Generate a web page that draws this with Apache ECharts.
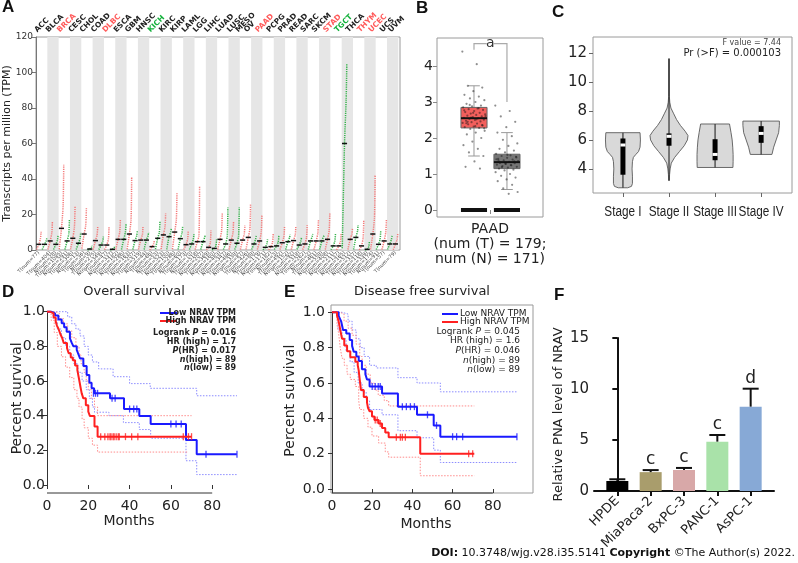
<!DOCTYPE html>
<html><head><meta charset="utf-8">
<script src="https://cdn.jsdelivr.net/npm/echarts@6/dist/echarts.min.js"></script>
<style>html,body{margin:0;padding:0;background:#fff}#c{width:798px;height:563px}</style>
</head><body><div id="c"></div>
<script>
// ================= DATA =================
// Panel A: pan-cancer dot plot (TPM). Per group: [min, median, q90, max]; null = no normal group
const cancerTypes = ['ACC','BLCA','BRCA','CESC','CHOL','COAD','DLBC','ESCA','GBM','HNSC','KICH','KIRC','KIRP','LAML','LGG','LIHC','LUAD','LUSC','MESO','OV','PAAD','PCPG','PRAD','READ','SARC','SKCM','STAD','TGCT','THCA','THYM','UCEC','UCS','UVM'];
const upInTumor = ['BRCA','DLBC','PAAD','STAD','THYM','UCEC'];
const downInTumor = ['KICH','TGCT'];
const tumorQuant = [
 [0.3,3.2,6.5,10.3],[0.3,5.1,9.5,16],[0.5,12.2,25,48],[0.3,6.6,13,24.4],[0.8,9.0,14,23.5],
 [0.2,5.3,8.5,13],[0.2,2.8,6,13],[0.3,6.0,10,17],[0.5,9.0,17,41],[0.3,5.6,8.5,13],
 [0.1,1.9,3.5,5.6],[0.5,8.5,13,20.6],[0.5,10.1,17,32],[0.2,3.0,6,11],[0.3,4.7,8,36],
 [0.1,1.5,4,11],[0.3,6.0,11,21],[0.3,5.6,9.5,16],[0.3,5.6,9,14],[0.3,7.1,12,26],
 [0.3,5.1,10,20],[0.1,1.9,4.5,9],[0.3,4.1,7.5,13],[0.3,5.3,8.5,13],[0.2,3.4,7,14],
 [0.2,5.1,9.5,17],[0.3,6.0,11,21],[0.1,2.3,5,9],[0.3,6.0,9,12],[0.1,2.3,7,17],
 [0.3,9.0,18,42],[0.3,5.1,10,17],[0.1,3.4,6,9]
];
const normalQuant = [
 [0.3,3.2,5,6.6],[0.3,3.2,5.5,8.5],[0.3,5.1,9,16.9],[0.3,3.8,6.5,10],[0.1,0.56,1.5,2.8],
 [0.2,2.8,5,7.5],[0.1,0.4,1.2,2],[0.3,6.0,10,14.6],[0.3,5.3,8,11],[0.3,5.6,8,10],
 [0.5,6.6,10,16],[0.3,7.5,10,12],[0.3,6.4,9.5,13],[0.3,3.4,6,9],[0.3,4.7,7,8.5],
 [0.1,0.9,2.5,6],[0.3,3.4,8,24],[0.3,3.8,8,24],null,[0.3,3.4,6,8],
 [0.1,1.5,3.5,6],[0.3,2.3,4.5,8],[0.3,4.7,7,9],[0.3,2.8,5,7],[0.3,5.1,7.5,9],
 [0.3,5.1,7.5,8],[0.2,2.3,5,9],[1,60,85,105],[0.3,7.1,10.5,14],[0.1,0.4,2,5],
 [0.3,3.2,6,11],[0.3,3.4,6,8],null
];
const tumorNum = [77,404,1085,306,36,275,47,182,163,519,66,523,286,173,518,369,483,486,87,426,179,182,492,92,262,461,408,137,512,118,174,57,79];
const normalNum = [128,28,291,13,9,349,337,286,207,44,53,100,60,70,207,160,347,338,null,88,171,3,152,318,2,558,211,165,337,339,91,78,null];
const aYTicks = [0,20,40,60,80,100,120];

// Panel B: PAAD boxplot  [min whisker, q1, median, q3, max whisker]
const bStats = [[1.5,2.28,2.55,2.85,3.45],[0.57,1.15,1.33,1.55,2.15]];
const bTumorPoints = [4.4,4.05,3.45,3.4,3.3,3.2,3.15,3.1,3.05,3.0,2.95,2.9,2.88,2.85,2.82,2.8,2.78,2.75,2.72,2.7,2.68,2.66,2.64,2.62,2.6,2.58,2.56,2.55,2.53,2.51,2.5,2.48,2.46,2.44,2.42,2.4,2.38,2.35,2.32,2.3,2.28,2.25,2.2,2.15,2.1,2.0,1.9,1.8,1.7,1.6,1.5,1.35,1.2,1.15,2.57,2.61,2.52,2.45,2.36,2.7,2.77,2.83,2.92,2.27,2.33,2.41];
const bNormalPoints = [2.9,2.75,2.6,2.45,2.3,2.15,2.05,1.95,1.85,1.78,1.7,1.65,1.6,1.56,1.52,1.5,1.48,1.45,1.42,1.4,1.38,1.36,1.34,1.32,1.3,1.28,1.26,1.24,1.22,1.2,1.18,1.15,1.12,1.1,1.05,1.0,0.95,0.9,0.85,0.8,0.7,0.6,0.5,0.45,1.31,1.35,1.29,1.41,1.25,1.19,1.46,1.53,1.37];
const bTicks = [0,1,2,3,4];

// Panel C: stage violins
const stageNames = ['Stage I','Stage II','Stage III','Stage IV'];
const stageProfiles = [
 [[2.7,0.25],[2.8,0.45],[3.0,0.5],[3.5,0.5],[4.0,0.48],[4.5,0.5],[4.8,0.55],[5.0,0.68],[5.2,0.82],[5.5,0.9],[6.0,0.92],[6.5,0.9]],
 [[3.2,0.02],[3.6,0.03],[4.0,0.06],[4.4,0.12],[4.8,0.3],[5.2,0.55],[5.6,0.8],[6.0,0.97],[6.3,1.0],[6.6,0.85],[7.0,0.6],[7.4,0.4],[7.8,0.25],[8.2,0.1],[8.6,0.04],[9.0,0.02],[11.6,0.02]],
 [[4.1,0.94],[4.5,0.95],[5.0,0.95],[5.5,0.93],[6.0,0.9],[6.5,0.84],[7.1,0.76]],
 [[5.0,0.57],[5.5,0.66],[6.0,0.79],[6.5,0.92],[7.0,0.96],[7.3,0.96]]
];
const stageMin = [2.7,3.2,4.1,5.0];
const stageQ1 = [3.6,5.6,4.6,5.8];
const stageMedian = [5.65,6.25,5.0,6.45];
const stageQ3 = [6.1,6.45,6.05,6.95];
const stageMax = [6.5,11.6,7.1,7.3];
const cTicks = [4,6,8,10,12];

// Panel D: overall survival (months, survival)
const dLow = [[0,1],[2,0.99],[3.9,0.978],[5.5,0.955],[7.1,0.933],[8.3,0.91],[9.5,0.885],[11.1,0.846],[12,0.82],[12.8,0.80],[14.4,0.779],[15.2,0.755],[16,0.73],[17.6,0.687],[19.2,0.635],[20.5,0.59],[21.6,0.558],[22.8,0.529],[30.5,0.5],[37.3,0.4385],[44.7,0.398],[50.2,0.352],[67.3,0.26],[72.5,0.177],[91.9,0.177]];
const dHigh = [[0,1],[1.5,0.99],[3.2,0.966],[4.2,0.944],[4.8,0.92],[5.6,0.90],[6.5,0.87],[7.3,0.85],[8.1,0.82],[9.7,0.79],[10.5,0.76],[11.5,0.735],[12.5,0.72],[13.6,0.69],[14.7,0.663],[15.6,0.606],[16.3,0.56],[16.8,0.529],[17.6,0.5],[18.8,0.46],[20,0.423],[20.8,0.398],[23,0.337],[24.5,0.279],[70,0.279]];
const dLowUpper = [[0,1],[8,1],[10,0.97],[12,0.93],[14,0.9],[16,0.86],[18,0.8],[20,0.75],[22,0.71],[25,0.67],[32,0.625],[40,0.585],[50,0.558],[72.5,0.515],[92,0.515]];
const dLowLower = [[0,1],[3,0.96],[5,0.9],[7,0.85],[9,0.8],[11,0.75],[13,0.7],[15,0.65],[17,0.6],[19,0.55],[20.5,0.5],[22,0.45],[23,0.42],[30,0.4],[37,0.36],[44.7,0.32],[50.2,0.27],[67.3,0.14],[72.5,0.06],[92,0.06]];
const dHighUpper = [[0,1],[4,0.99],[6,0.96],[8,0.93],[10,0.89],[12,0.85],[14,0.8],[15.5,0.75],[16.5,0.7],[18,0.65],[19,0.6],[20,0.55],[21.5,0.5],[23,0.45],[24.5,0.40],[70,0.40]];
const dHighLower = [[0,1],[2,0.95],[3.5,0.88],[5,0.8],[7,0.74],[9,0.68],[11,0.62],[13,0.55],[14.5,0.5],[15.5,0.45],[17,0.38],[18,0.33],[20,0.27],[22,0.23],[24.5,0.19],[68,0.19]];
const dLowCensor = [[22.5,0.529],[23.5,0.529],[24.5,0.529],[31.5,0.5],[33,0.5],[40,0.4385],[42,0.4385],[43.5,0.4385],[60,0.352],[62.5,0.352],[65,0.352],[77,0.177],[92,0.177]];
const dHighCensor = [[26,0.279],[28,0.279],[29.5,0.279],[30.5,0.279],[31,0.279],[32,0.279],[32.5,0.279],[33.5,0.279],[34.5,0.279],[35,0.279],[38,0.279],[41,0.279],[44,0.279],[66,0.279],[68.5,0.279],[70,0.279]];

// Panel E: disease free survival
const eLow = [[0,1],[3.3,0.98],[4.1,0.96],[4.6,0.947],[5.5,0.9],[7.1,0.88],[8.8,0.843],[10,0.81],[10.8,0.777],[12.1,0.75],[13.3,0.725],[14.9,0.678],[16.6,0.65],[17.4,0.62],[18.7,0.58],[24.9,0.54],[32.8,0.466],[42.3,0.42],[50.6,0.36],[53.9,0.296],[92,0.296]];
const eHigh = [[0,1],[2.5,0.98],[3.3,0.95],[4.1,0.9],[5,0.85],[6.1,0.812],[7.5,0.78],[9.1,0.745],[11.6,0.72],[12.8,0.70],[13.3,0.67],[13.8,0.617],[14.4,0.56],[15.8,0.52],[17.4,0.49],[17.9,0.46],[18.7,0.44],[19.9,0.41],[21.1,0.39],[23.2,0.37],[24.9,0.345],[26.5,0.32],[28.2,0.293],[43.9,0.2],[70.8,0.2]];
const eLowUpper = [[0,1],[5,0.99],[8,0.95],[10,0.9],[12,0.85],[14,0.8],[16,0.75],[18.7,0.7],[22,0.685],[32.8,0.63],[42.3,0.6],[53.9,0.55],[92,0.55]];
const eLowLower = [[0,1],[3,0.9],[5,0.85],[7,0.78],[9,0.72],[11,0.66],[13,0.6],[15,0.55],[17,0.5],[18.7,0.45],[24.9,0.42],[32.8,0.33],[42.3,0.29],[50.6,0.22],[53.9,0.15],[92,0.15]];
const eHighUpper = [[0,1],[4,0.99],[6,0.95],[8,0.91],[10,0.87],[12,0.82],[13.8,0.75],[15,0.7],[17,0.65],[19,0.6],[21,0.56],[23,0.53],[26,0.5],[28.2,0.47],[70.8,0.47]];
const eHighLower = [[0,1],[2.5,0.93],[3.3,0.88],[4.1,0.8],[5,0.74],[6.1,0.7],[7.5,0.65],[9.1,0.62],[11.6,0.58],[13.3,0.5],[13.8,0.45],[15.8,0.4],[17.9,0.35],[19.9,0.3],[23.2,0.26],[26.5,0.21],[28.2,0.18],[43.9,0.075],[70.8,0.075]];
const eLowCensor = [[20,0.58],[21.5,0.58],[23,0.58],[24,0.58],[35,0.466],[37,0.466],[39,0.466],[41,0.466],[47.5,0.42],[52,0.36],[60,0.296],[62,0.296],[65,0.296],[92,0.296]];
const eHighCensor = [[21.5,0.39],[22.5,0.39],[24,0.37],[32,0.293],[34,0.293],[35,0.293],[36.5,0.293],[68,0.2],[70,0.2]];
const survTicksX = [0,20,40,60,80];

// Panel F: cell lines
const cellLines = ['HPDE','MiaPaca-2','BxPC-3','PANC-1','AsPC-1'];
const cellValues = [0.98,1.85,2.06,4.84,8.27];
const cellErrors = [0.17,0.2,0.2,0.65,1.76];
const cellLetters = ['','c','c','c','d'];
const cellColors = ['#000000','#a99d6c','#d8a8a8','#a9e2a9','#87a9d6'];

// ================= CHART =================
const FONT = 'DejaVu Sans';
const chart = echarts.init(document.getElementById('c'), null, {renderer:'canvas', width:798, height:563});

// slots for panel A (one per group)
const slotDefs = [];
cancerTypes.forEach((c,i)=>{ slotDefs.push({i:i,g:0}); if (normalQuant[i]) slotDefs.push({i:i,g:1}); });
const nSlots = slotDefs.length;
const cancerCenters = cancerTypes.map((c,i)=>{
  const ks = []; slotDefs.forEach((s,k)=>{ if(s.i===i) ks.push(k); });
  return (ks[0] + ks[ks.length-1] + 1)/2;
});
const slotCenters = slotDefs.map((s,k)=>k+0.5);
const A_MAX = 64.3;

function gridBox(l,t,w,h,show){return {left:l,top:t,width:w,height:h,containLabel:false,outerBoundsMode:'none',show:!!show,borderColor:'#9a9a9a',borderWidth:1,backgroundColor:'transparent'};}

const D_PX = 2.065, E_PX = 2.01, S_MAX = 95;
const grids = [
  gridBox(36,37,364,213,true),            // A
  gridBox(437,38,106,179,true),           // B
  gridBox(593,37,199,156,true),           // C
  gridBox(47,311.7,S_MAX*D_PX,173.3),     // D
  gridBox(332,312.3,S_MAX*E_PX,176.7),    // E
  gridBox(594,338,180,153)                // F
];

const nameTS = (fs)=>({fontSize:fs,fontFamily:FONT,color:'#222'});

const xAxes = [
  // 0: A value axis (bottom; tiny group labels)
  {gridIndex:0,type:'value',min:0,max:A_MAX,axisLine:{show:false},axisTick:{show:false},splitLine:{show:false},
   axisLabel:{customValues:slotCenters,rotate:45,fontSize:5,fontFamily:FONT,color:'#444',margin:2,showMinLabel:true,showMaxLabel:true,hideOverlap:false,
     formatter:(v)=>{const s=slotDefs[Math.floor(v)]; if(!s) return ''; return s.g===0?('T(num='+tumorNum[s.i]+')'):('N(num='+normalNum[s.i]+')');}}},
  // 1: B
  {gridIndex:1,type:'value',min:0,max:1,axisLine:{show:false},splitLine:{show:false},
   axisTick:{show:true,customValues:[0.5],length:4,lineStyle:{color:'#888'}},
   axisLabel:{customValues:[0.5],fontSize:14,fontFamily:FONT,color:'#222',margin:5,lineHeight:15,
     formatter:()=> 'PAAD\n(num (T) = 179;\nnum (N) = 171)'}},
  // 2: C
  {gridIndex:2,type:'value',min:0.35,max:4.67,axisLine:{show:false},splitLine:{show:false},
   axisTick:{show:true,customValues:[1,2,3,4],length:4,lineStyle:{color:'#666'}},
   axisLabel:{show:false}},
  // 3: D
  {gridIndex:3,type:'value',min:0,max:S_MAX,offset:8,
   axisLine:{show:false},axisTick:{show:true,customValues:survTicksX,length:4,lineStyle:{color:'#333'}},
   splitLine:{show:false},axisLabel:{customValues:survTicksX,fontSize:14,fontFamily:FONT,color:'#222',margin:6}},
  // 4: E
  {gridIndex:4,type:'value',min:0,max:S_MAX,offset:4,
   axisLine:{show:false},axisTick:{show:true,customValues:survTicksX,length:4,lineStyle:{color:'#333'}},
   splitLine:{show:false},axisLabel:{customValues:survTicksX,fontSize:14,fontFamily:FONT,color:'#222',margin:6}},
  // 5: F
  {gridIndex:5,type:'value',min:-0.7,max:4.7,
   axisLine:{show:true,lineStyle:{color:'#111',width:2}},
   axisTick:{show:true,customValues:[0,1,2,3,4],length:5,lineStyle:{color:'#111',width:2}},
   splitLine:{show:false},
   axisLabel:{customValues:[0,1,2,3,4],rotate:45,fontSize:13,fontFamily:FONT,color:'#222',margin:8,showMinLabel:true,showMaxLabel:true,hideOverlap:false,
     formatter:(v)=> cellLines[Math.round(v)]}}
];

const yAxes = [
  {gridIndex:0,type:'value',min:0,max:120,interval:20,
   axisLine:{show:true,lineStyle:{color:'#777'}},axisTick:{show:true,length:4,lineStyle:{color:'#777'}},
   splitLine:{show:false},axisLabel:{fontSize:9,fontFamily:FONT,color:'#333',margin:3},
   name:'Transcripts per million (TPM)',nameLocation:'middle',nameRotate:90,nameGap:23,nameMoveOverlap:false,
   nameTextStyle:nameTS(11)},
  {gridIndex:1,type:'value',min:-0.194,max:4.778,axisLine:{show:false},splitLine:{show:false},
   axisTick:{show:true,customValues:bTicks,length:4,lineStyle:{color:'#888'}},
   axisLabel:{customValues:bTicks,fontSize:14,fontFamily:FONT,color:'#222',margin:4,showMinLabel:true,showMaxLabel:true}},
  {gridIndex:2,type:'value',min:2.34,max:13.1,axisLine:{show:false},splitLine:{show:false},
   axisTick:{show:true,customValues:cTicks,length:4,lineStyle:{color:'#666'}},
   axisLabel:{customValues:cTicks,fontSize:15,fontFamily:FONT,color:'#222',margin:6,showMinLabel:true,showMaxLabel:true}},
  {gridIndex:3,type:'value',min:0,max:1,interval:0.2,offset:1,
   axisLine:{show:true,lineStyle:{color:'#333'}},axisTick:{show:true,length:4,lineStyle:{color:'#333'}},
   splitLine:{show:false},axisLabel:{fontSize:14,fontFamily:FONT,color:'#222',margin:1,formatter:(v)=>v.toFixed(1)},
   name:'Percent survival',nameLocation:'middle',nameRotate:90,nameGap:22,nameMoveOverlap:false,nameTextStyle:nameTS(14)},
  {gridIndex:4,type:'value',min:0,max:1,interval:0.2,offset:1,
   axisLine:{show:true,lineStyle:{color:'#333'}},axisTick:{show:true,length:4,lineStyle:{color:'#333'}},
   splitLine:{show:false},axisLabel:{fontSize:14,fontFamily:FONT,color:'#222',margin:6,formatter:(v)=>v.toFixed(1)},
   name:'Percent survival',nameLocation:'middle',nameRotate:90,nameGap:34,nameMoveOverlap:false,nameTextStyle:nameTS(14)},
  {gridIndex:5,type:'value',min:0,max:15,interval:5,
   axisLine:{show:true,lineStyle:{color:'#111',width:2}},axisTick:{show:true,length:5,lineStyle:{color:'#111',width:2}},
   splitLine:{show:false},axisLabel:{fontSize:15,fontFamily:FONT,color:'#222',margin:5},
   name:'Relative PNA level of NRAV',nameLocation:'middle',nameRotate:90,nameGap:29,nameMoveOverlap:false,nameTextStyle:nameTS(13)}
];

const series = [];

// ---- A: bands (every two slots)
const bandIdx = []; for (let k=0;k<Math.ceil(nSlots/2);k++) bandIdx.push([k]);
series.push({type:'custom',xAxisIndex:0,yAxisIndex:0,z:1,silent:true,data:bandIdx,
  renderItem:(p,api)=>{const k=api.value(0); if(k%2===0) return null;
    const a=api.coord([2*k,120]), b=api.coord([2*k+2,0]);
    return {type:'rect',shape:{x:a[0],y:a[1],width:b[0]-a[0],height:b[1]-a[1]},style:{fill:'#e6e6e6'}};}});
// ---- A: dot clouds
const aGroupData = slotDefs.map((s,k)=>[k,s.g].concat(s.g===0?tumorQuant[s.i]:normalQuant[s.i]));
series.push({type:'custom',xAxisIndex:0,yAxisIndex:0,z:3,silent:true,clip:false,data:aGroupData,
  renderItem:(p,api)=>{
    const k=api.value(0), g=api.value(1);
    const q=[api.value(2),api.value(3),api.value(4),api.value(5)];
    const xa=k+0.1, xb=k+0.9;
    const fr=[0,0.5,0.86,1];
    const pts=q.map((v,j)=>api.coord([xa+(xb-xa)*fr[j],v]));
    const color=g===0?'#f47a7a':'#34b24a';
    const m0=api.coord([k+0.05,q[1]]), m1=api.coord([k+0.95,q[1]]);
    return {type:'group',children:[
      {type:'polyline',shape:{points:pts,smooth:0.25},style:{stroke:color,lineWidth:1.5,fill:null,lineDash:[1.2,1]}},
      {type:'line',shape:{x1:m0[0],y1:m0[1],x2:m1[0],y2:m1[1]},style:{stroke:'#111',lineWidth:1.5}}
    ]};
  }});
// ---- A: cancer labels above the plot
series.push({type:'custom',xAxisIndex:0,yAxisIndex:0,z:5,silent:true,clip:false,
  data:cancerCenters.map((c,i)=>[c,i]),
  renderItem:(p,api)=>{
    const i=api.value(1); const pos=api.coord([api.value(0),120]);
    const n=cancerTypes[i];
    const col=upInTumor.includes(n)?'#ff5a5a':(downInTumor.includes(n)?'#12b03a':'#222');
    return {type:'text',x:pos[0]-3,y:pos[1]-3,rotation:Math.PI/4,
      style:{text:n,fontSize:7.5,fontWeight:'bold',fontFamily:FONT,fill:col,align:'left',verticalAlign:'bottom'}};
  }});

// ---- B: boxes
series.push({type:'custom',xAxisIndex:1,yAxisIndex:1,z:2,silent:true,
  data:bStats.map((s,k)=>[k===0?0.349:0.66].concat(s).concat([k])),
  renderItem:(p,api)=>{
    const cx=api.value(0), lo=api.value(1), q1=api.value(2), med=api.value(3), q3=api.value(4), hi=api.value(5), g=api.value(6);
    const hw=0.123, cw=0.055;
    const pLo=api.coord([cx,lo]), pHi=api.coord([cx,hi]);
    const b1=api.coord([cx-hw,q3]), b2=api.coord([cx+hw,q1]);
    const m1=api.coord([cx-hw,med]), m2=api.coord([cx+hw,med]);
    const c1=api.coord([cx-cw,hi]), c2=api.coord([cx+cw,hi]);
    const d1=api.coord([cx-cw,lo]), d2=api.coord([cx+cw,lo]);
    const z1=api.coord([cx-hw,0]), z2=api.coord([cx+hw,0]);
    return {type:'group',children:[
      {type:'line',shape:{x1:pLo[0],y1:pLo[1],x2:pHi[0],y2:pHi[1]},style:{stroke:'#999',lineWidth:1}},
      {type:'line',shape:{x1:c1[0],y1:c1[1],x2:c2[0],y2:c2[1]},style:{stroke:'#999',lineWidth:1}},
      {type:'line',shape:{x1:d1[0],y1:d1[1],x2:d2[0],y2:d2[1]},style:{stroke:'#999',lineWidth:1}},
      {type:'rect',shape:{x:b1[0],y:b1[1],width:b2[0]-b1[0],height:b2[1]-b1[1]},style:{fill:g===0?'#f25f5c':'#767676',stroke:'#666',lineWidth:1}},
      {type:'line',shape:{x1:m1[0],y1:m1[1],x2:m2[0],y2:m2[1]},style:{stroke:'#111',lineWidth:2}},
      {type:'line',shape:{x1:z1[0],y1:z1[1],x2:z2[0],y2:z2[1]},style:{stroke:'#111',lineWidth:4}}
    ]};
  }});
// ---- B: jitter points (deterministic spread)
function jitter(vals,cx){return vals.map((v,k)=>[cx+(((k*0.6180339)%1)-0.5)*0.22, v]);}
series.push({type:'scatter',xAxisIndex:1,yAxisIndex:1,z:4,silent:true,symbolSize:2.2,itemStyle:{color:'rgba(20,20,20,0.6)'},data:jitter(bTumorPoints,0.349)});
series.push({type:'scatter',xAxisIndex:1,yAxisIndex:1,z:4,silent:true,symbolSize:2.2,itemStyle:{color:'rgba(20,20,20,0.6)'},data:jitter(bNormalPoints,0.66)});
// ---- B: significance bracket
series.push({type:'custom',xAxisIndex:1,yAxisIndex:1,z:5,silent:true,clip:false,data:[[0.349,0.66,4.62,4.45,3.0]],
  renderItem:(p,api)=>{
    const x1=api.value(0), x2=api.value(1), top=api.value(2), l=api.value(3), r=api.value(4);
    const A=api.coord([x1,l]), B=api.coord([x1,top]), C=api.coord([0.47,top]), D=api.coord([0.535,top]), E=api.coord([x2,top]), F=api.coord([x2,r]);
    const T=api.coord([0.503,top]);
    const st={stroke:'#aaa',lineWidth:1.2,fill:null};
    return {type:'group',children:[
      {type:'polyline',shape:{points:[A,B,C]},style:st},
      {type:'polyline',shape:{points:[D,E,F]},style:st},
      {type:'text',x:T[0],y:T[1],style:{text:'a',fontSize:14,fontFamily:FONT,fill:'#333',align:'center',verticalAlign:'middle'}}
    ]};
  }});

// ---- C: violins
series.push({type:'custom',xAxisIndex:2,yAxisIndex:2,z:3,silent:true,
  data:stageNames.map((_,k)=>[k+1,k]),
  renderItem:(p,api)=>{
    const x=api.value(0), k=api.value(1), S=19;
    const prof=stageProfiles[k];
    const left=prof.map(([y,w])=>{const c=api.coord([x,y]); return [c[0]-w*S,c[1]];});
    const right=prof.slice().reverse().map(([y,w])=>{const c=api.coord([x,y]); return [c[0]+w*S,c[1]];});
    const lo=api.coord([x,stageMin[k]]), hi=api.coord([x,stageMax[k]]);
    const q1=api.coord([x,stageQ1[k]]), q3=api.coord([x,stageQ3[k]]), md=api.coord([x,stageMedian[k]]);
    return {type:'group',children:[
      {type:'polygon',shape:{points:left.concat(right)},style:{fill:'#d9d9d9',stroke:'#5a5a5a',lineWidth:0.9}},
      {type:'line',shape:{x1:lo[0],y1:lo[1],x2:hi[0],y2:hi[1]},style:{stroke:'#333',lineWidth:1.2}},
      {type:'rect',shape:{x:q3[0]-2.5,y:q3[1],width:5,height:q1[1]-q3[1]},style:{fill:'#000'}},
      {type:'rect',shape:{x:md[0]-2.5,y:md[1]-1.5,width:5,height:3},style:{fill:'#fff'}}
    ]};
  }});
// ---- C: stage labels under the axis (slightly condensed to fit like the original)
series.push({type:'custom',xAxisIndex:2,yAxisIndex:2,z:3,silent:true,clip:false,
  data:stageNames.map((_,k)=>[k+1,k]),
  renderItem:(p,api)=>{const pos=api.coord([api.value(0),2.34]);
    return {type:'text',x:pos[0],y:pos[1]+19,scaleX:0.84,scaleY:1,
      style:{text:stageNames[api.value(1)],fontSize:14,fontFamily:'Liberation Sans',fill:'#222',align:'center',verticalAlign:'middle'}};}});

// ---- D & E survival curves
function kmSeries(xi,yi,data,color,width,dotted,z){
  return {type:'line',xAxisIndex:xi,yAxisIndex:yi,data:data,step:'end',symbol:'none',clip:false,silent:true,z:z,
    lineStyle:{color:color,width:width,type:dotted?[1.5,1.5]:'solid'}};
}
function censorSeries(xi,yi,data,color){
  return {type:'scatter',xAxisIndex:xi,yAxisIndex:yi,data:data,symbol:'rect',symbolSize:[1.3,7],clip:false,silent:true,z:6,itemStyle:{color:color}};
}
// R-style x axis line spanning first..last tick, shifted below the plot
function xAxisLine(xi,yi,offset){
  return {type:'custom',xAxisIndex:xi,yAxisIndex:yi,silent:true,clip:false,z:1,data:[[survTicksX[0],survTicksX[survTicksX.length-1]]],
    renderItem:(p,api)=>{const a=api.coord([api.value(0),0]), b=api.coord([api.value(1),0]);
      return {type:'line',shape:{x1:a[0],y1:a[1]+offset,x2:b[0],y2:b[1]+offset},style:{stroke:'#333',lineWidth:1}};}};
}
const BLUE='#1a1aff', RED='#ff2020', BLUE_CI='#8c8cff', RED_CI='#ff8c8c';
series.push(kmSeries(3,3,dLowUpper,BLUE_CI,1,true,2), kmSeries(3,3,dLowLower,BLUE_CI,1,true,2),
            kmSeries(3,3,dHighUpper,RED_CI,1,true,2), kmSeries(3,3,dHighLower,RED_CI,1,true,2),
            kmSeries(3,3,dLow,BLUE,2,false,4), kmSeries(3,3,dHigh,RED,2,false,5),
            censorSeries(3,3,dLowCensor,BLUE), censorSeries(3,3,dHighCensor,RED), xAxisLine(3,3,8));
series.push(kmSeries(4,4,eLowUpper,BLUE_CI,1,true,2), kmSeries(4,4,eLowLower,BLUE_CI,1,true,2),
            kmSeries(4,4,eHighUpper,RED_CI,1,true,2), kmSeries(4,4,eHighLower,RED_CI,1,true,2),
            kmSeries(4,4,eLow,BLUE,2,false,4), kmSeries(4,4,eHigh,RED,2,false,5),
            censorSeries(4,4,eLowCensor,BLUE), censorSeries(4,4,eHighCensor,RED), xAxisLine(4,4,4));

// ---- F bars
series.push({type:'bar',xAxisIndex:5,yAxisIndex:5,barWidth:22,silent:true,z:2,
  data:cellValues.map((v,i)=>({value:[i,v],itemStyle:{color:cellColors[i]}}))});
series.push({type:'custom',xAxisIndex:5,yAxisIndex:5,z:3,silent:true,clip:false,
  data:cellValues.map((v,i)=>[i,v,cellErrors[i]]),
  renderItem:(p,api)=>{
    const i=api.value(0), v=api.value(1), e=api.value(2);
    const b=api.coord([i,v]), t=api.coord([i,v+e]);
    return {type:'group',children:[
      {type:'line',shape:{x1:b[0],y1:b[1],x2:t[0],y2:t[1]},style:{stroke:'#111',lineWidth:2}},
      {type:'line',shape:{x1:t[0]-8,y1:t[1],x2:t[0]+8,y2:t[1]},style:{stroke:'#111',lineWidth:2}},
      {type:'text',x:t[0],y:t[1]-2,style:{text:cellLetters[i],fontSize:17,fontFamily:FONT,fill:'#222',align:'center',verticalAlign:'bottom'}}
    ]};
  }});

// ================= TEXT (graphic) =================
function txt(x,y,text,opt){return Object.assign({type:'text',x:x,y:y,silent:true,style:Object.assign({text:text,fontFamily:FONT,fontSize:12,fill:'#222'},opt||{})});}
function letter(x,y,t){return txt(x,y,t,{fontFamily:'Liberation Sans',fontWeight:'bold',fontSize:17,fill:'#111',verticalAlign:'top'});}
function hline(x1,x2,y,color){return {type:'line',silent:true,shape:{x1:x1,y1:y,x2:x2,y2:y},style:{stroke:color,lineWidth:2}};}
const richB = {i:{fontStyle:'italic',fontWeight:'bold',fontSize:8,fontFamily:FONT}};
const richN = {i:{fontStyle:'italic',fontSize:9,fontFamily:FONT}};
const graphics = [
  letter(2,-1,'A'), letter(416,0,'B'), letter(552,4,'C'), letter(2,284,'D'), letter(284,284,'E'), letter(554,287,'F'),
  txt(781,43,'F value = 7.44',{fontSize:8,align:'right',verticalAlign:'middle',fill:'#444'}),
  txt(781,53,'Pr (>F) = 0.000103',{fontSize:10,align:'right',verticalAlign:'middle'}),
  txt(134,292,'Overall survival',{fontSize:13,align:'center',verticalAlign:'middle'}),
  txt(422,292,'Disease free survival',{fontSize:13,align:'center',verticalAlign:'middle'}),
  txt(129,521,'Months',{fontSize:14,align:'center',verticalAlign:'middle'}),
  txt(426,524,'Months',{fontSize:14,align:'center',verticalAlign:'middle'}),
  // D legend
  hline(160,177,313,BLUE), hline(160,177,321,RED),
  txt(236,313,'Low NRAV TPM',{fontSize:8,fontWeight:'bold',align:'right',verticalAlign:'middle'}),
  txt(236,321,'High NRAV TPM',{fontSize:8,fontWeight:'bold',align:'right',verticalAlign:'middle'}),
  txt(236,333,'Logrank {i|P} = 0.016',{fontSize:8,fontWeight:'bold',align:'right',verticalAlign:'middle',rich:richB}),
  txt(236,342,'HR (high) = 1.7',{fontSize:8,fontWeight:'bold',align:'right',verticalAlign:'middle'}),
  txt(236,351,'{i|P}(HR) = 0.017',{fontSize:8,fontWeight:'bold',align:'right',verticalAlign:'middle',rich:richB}),
  txt(236,360,'{i|n}(high) = 89',{fontSize:8,fontWeight:'bold',align:'right',verticalAlign:'middle',rich:richB}),
  txt(236,368,'{i|n}(low) = 89',{fontSize:8,fontWeight:'bold',align:'right',verticalAlign:'middle',rich:richB}),
  // E legend
  hline(442,458,314,BLUE), hline(442,458,322,RED),
  txt(460,314,'Low NRAV TPM',{fontSize:9,verticalAlign:'middle'}),
  txt(460,322,'High NRAV TPM',{fontSize:9,verticalAlign:'middle'}),
  txt(520,332,'Logrank {i|P} = 0.045',{fontSize:9,align:'right',verticalAlign:'middle',rich:richN}),
  txt(520,341,'HR (high) = 1.6',{fontSize:9,align:'right',verticalAlign:'middle'}),
  txt(520,351,'{i|P}(HR) = 0.046',{fontSize:9,align:'right',verticalAlign:'middle',rich:richN}),
  txt(520,361,'{i|n}(high) = 89',{fontSize:9,align:'right',verticalAlign:'middle',rich:richN}),
  txt(520,370,'{i|n}(low) = 89',{fontSize:9,align:'right',verticalAlign:'middle',rich:richN}),
  // E frame
  {type:'rect',silent:true,shape:{x:331,y:305,width:202,height:188},style:{fill:null,stroke:'#999',lineWidth:1}},
  // DOI
  txt(795,553,'{b|DOI:} 10.3748/wjg.v28.i35.5141 {b|Copyright} ©The Author(s) 2022.',{fontSize:11,align:'right',verticalAlign:'middle',fill:'#111',rich:{b:{fontWeight:'bold',fontSize:11,fontFamily:FONT,fill:'#111'}}})
];

chart.setOption({
  animation:false,
  backgroundColor:'#fff',
  textStyle:{fontFamily:FONT},
  grid:grids, xAxis:xAxes, yAxis:yAxes, series:series, graphic:graphics
});
</script></body></html>
